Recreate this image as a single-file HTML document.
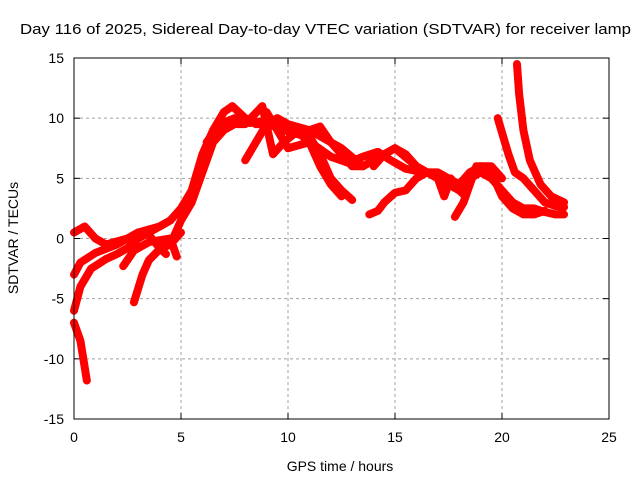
<!DOCTYPE html>
<html><head><meta charset="utf-8"><style>
body{margin:0;background:#fff;}
svg{display:block;font-family:"Liberation Sans",sans-serif;}
</style></head><body>
<svg id="chart" width="640" height="480">
<text x="20" y="34" font-size="15" textLength="611" lengthAdjust="spacingAndGlyphs">Day 116 of 2025, Sidereal Day-to-day VTEC variation (SDTVAR) for receiver lamp</text>
<g id="grid"></g><g id="ticks"></g><g id="series"></g>
<rect x="74" y="58" width="535" height="361" fill="none" stroke="#000" stroke-width="1"/>
<text x="340" y="471" font-size="14" text-anchor="middle">GPS time / hours</text>
<text x="18" y="238" font-size="14" text-anchor="middle" transform="rotate(-90 18 238)">SDTVAR / TECUs</text>
</svg>
<script>
const xTicks=[0,5,10,15,20,25];
const yTicks=[-15,-10,-5,0,5,10,15];
const trackA=[[0,-7],[0.3,-8.5],[0.6,-11.8]];
const trackB=[[0,0.5],[0.5,1],[1,0],[1.5,-0.5],[2.5,0],[3,0.5],[4,1],[4.5,1.5],[5,2.5],[5.5,4],[6,7],[6.5,9],[7,10.5],[7.4,11],[8,10],[8.5,9.5],[9,9.5],[10,9],[11,9],[12,8],[12.5,7.5],[13.5,6]];
const trackC=[[0,-3],[0.3,-2],[1,-1.2],[2,-0.5],[3,0.5],[3.5,0.3],[4,-0.8],[4.3,-1.3]];
const trackD=[[0,-6],[0.3,-4],[0.8,-2.5],[1.5,-1.7],[2,-1.3],[2.5,-0.8],[3,0],[3.5,0.5],[4,1],[4.5,1.5]];
const trackE=[[2.8,-5.3],[3.2,-3],[3.5,-1.8],[4,-0.9],[4.5,-0.5],[5,0.5]];
const trackF=[[2.3,-2.3],[2.8,-1],[3.5,-0.3],[4.5,0],[4.8,-1.5]];
const trackG=[[4.5,-0.5],[5,1.5],[5.5,3],[6,5.5],[6.5,8],[7,9],[7.5,9.5],[8,9.5],[8.8,11],[9.3,7],[9.8,8],[10.5,9],[11,8.5],[11.5,7],[12,5],[12.5,4],[13,3.2]];
const trackH=[[8,6.5],[8.5,8],[9,9.5],[9.5,10],[10,9.5],[11,9],[11.5,9.3],[12,8],[12.5,7],[13,6],[13.5,6],[14,6.5],[14.5,7],[15,7.5],[15.5,7],[16,6],[17,5],[17.5,4.5],[18,4],[18.5,5],[19,5.5],[19.5,5],[20,4],[20.5,3],[21,2.5],[21.5,2.5],[22,2.2],[22.5,2],[22.9,2]];
const trackI=[[13.8,2],[14.2,2.3],[14.5,3],[15,3.8],[15.5,4],[16,5],[16.5,5.5],[17,5.5],[17.5,5],[18,4.5],[18.5,5.5],[19,6],[19.5,5.5],[20,3.5],[20.5,2.5],[21,2],[21.5,2],[22,2.3]];
const trackJ=[[9,10.5],[9.5,9],[10,7.5],[11,8],[11.5,6],[12,4.5],[12.5,3.5]];
const trackK=[[14,6],[14.5,7],[15,7.5],[16,6],[17,5],[17.3,3.5],[17.6,5],[18,4],[18.3,3.5],[18.5,5],[19,5.5]];
const trackL=[[17.8,1.8],[18.2,3],[18.8,6],[19.5,6],[20,5]];
const trackM=[[19.8,10],[20.3,7],[20.6,5.5],[21,5],[21.5,4],[22,3],[22.5,2.7],[22.9,2.6]];
const trackN=[[20.7,14.5],[20.8,12],[21,9],[21.3,6.5],[21.8,4.5],[22.3,3.5],[22.9,3]];
const trackO=[[6.2,8],[6.8,9.5],[7.5,10],[8.2,9.6],[9,9.8],[9.8,9],[10.6,8.6],[11.2,7.8],[12,6.8],[12.8,6.3],[13.5,6.8],[14.2,7.2],[14.8,6.5],[15.5,5.8],[16.3,5.5]];
const tracks=[trackA,trackB,trackC,trackD,trackE,trackF,trackG,trackH,trackI,trackJ,trackK,trackL,trackM,trackN,trackO];
const NS="http://www.w3.org/2000/svg";
const X=v=>74+v*(535/25);
const Y=v=>238.5-v*(361/30);
const grid=document.getElementById('grid'),ticks=document.getElementById('ticks'),ser=document.getElementById('series');
function mk(tag,attrs,parent){const e=document.createElementNS(NS,tag);for(const k in attrs)e.setAttribute(k,attrs[k]);parent.appendChild(e);return e;}
xTicks.forEach(t=>{
  if(t>0&&t<25){const g=mk('line',{x1:X(t),x2:X(t),y1:58,y2:419,stroke:'#a0a0a0','stroke-dasharray':'3,3'},grid);
  
  }
  mk('line',{x1:X(t),x2:X(t),y1:419,y2:413,stroke:'#000'},ticks);
  mk('line',{x1:X(t),x2:X(t),y1:58,y2:64,stroke:'#000'},ticks);
  const l=mk('text',{x:X(t),y:442,'font-size':14,'text-anchor':'middle'},ticks);l.textContent=t;
  
  
});
yTicks.forEach(t=>{
  if(t>-15&&t<15){const g=mk('line',{x1:74,x2:609,y1:Y(t),y2:Y(t),stroke:'#a0a0a0','stroke-dasharray':'3,3'},grid);
  
  }
  mk('line',{x1:74,x2:80,y1:Y(t),y2:Y(t),stroke:'#000'},ticks);
  mk('line',{x1:609,x2:603,y1:Y(t),y2:Y(t),stroke:'#000'},ticks);
  const l=mk('text',{x:64,y:Y(t)+5,'font-size':14,'text-anchor':'end'},ticks);l.textContent=t;
  
  
});
tracks.forEach(tr=>{
  const p=mk('polyline',{points:tr.map(d=>X(d[0])+','+Y(d[1])).join(' '),fill:'none',stroke:'#ff0000','stroke-width':8,'stroke-linejoin':'round','stroke-linecap':'round'},ser);
  
  
});
</script>
</body></html>
